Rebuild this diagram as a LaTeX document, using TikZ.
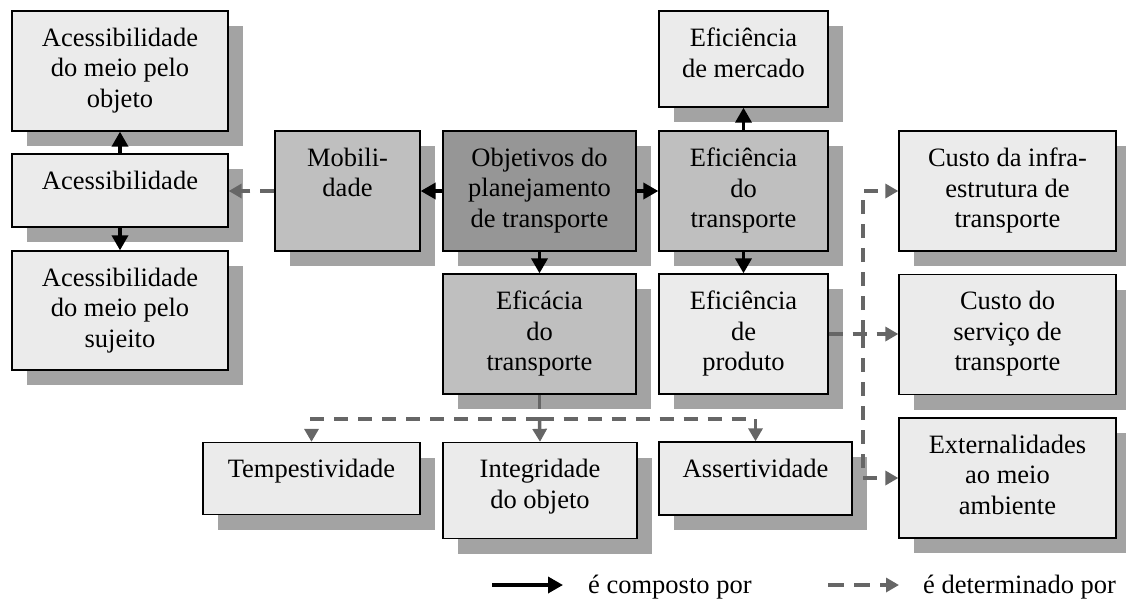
\documentclass[tikz,border=0pt]{standalone}
\usepackage{fontspec}
\setmainfont{Liberation Serif}
\usetikzlibrary{arrows.meta}
\usetikzlibrary{shadows}

\definecolor{claro}{gray}{0.92}
\definecolor{medio}{gray}{0.75}
\definecolor{escuro}{gray}{0.59}
\definecolor{sombra}{gray}{0.64}
\definecolor{traco}{gray}{0.40}

\begin{document}
\begin{tikzpicture}[x = 1pt, y = -1pt]
\tikzstyle{BoxStyle}=[shape = rectangle,
                      draw, line width = 1.3pt,
                      inner sep = 0pt,
                      drop shadow = {shadow xshift = 15pt, shadow yshift = -15pt,
                                     fill = sombra, opacity = 1}]
\tikzstyle{TextStyle}=[anchor = north, align = center, inner sep = 0pt,
                       yshift = -17.5pt,
                       font = \fontsize{26.5}{30.5}\selectfont]
\tikzstyle{LegendStyle}=[anchor = base west, inner sep = 0pt,
                         font = \fontsize{26.5}{30.5}\selectfont]
\tikzstyle{EdgeStyle}=[line width = 3.5pt,
                       -{Triangle[width = 16pt, length = 15pt]}]
\tikzstyle{DashStyle}=[draw = traco, line width = 3.5pt,
                       dash pattern = on 14pt off 10pt,
                       -{Triangle[width = 14pt, length = 13pt, fill = traco]}]
\useasboundingbox (0, 0) rectangle (1126, 603);
% caixas
\node[BoxStyle, fill = claro, minimum width = 216pt, minimum height = 120pt] (acObj) at (120, 71) {};
\node[BoxStyle, fill = claro, minimum width = 216pt, minimum height = 73pt] (acess) at (120, 190.5) {};
\node[BoxStyle, fill = claro, minimum width = 216pt, minimum height = 119pt] (acSuj) at (120, 310.5) {};
\node[BoxStyle, fill = medio, minimum width = 145pt, minimum height = 120pt] (mob) at (347.5, 191) {};
\node[BoxStyle, fill = escuro, minimum width = 193pt, minimum height = 120pt] (obj) at (539.5, 191) {};
\node[BoxStyle, fill = claro, minimum width = 169pt, minimum height = 96pt] (efMer) at (743.5, 59) {};
\node[BoxStyle, fill = medio, minimum width = 169pt, minimum height = 120pt] (efTr) at (743.5, 191) {};
\node[BoxStyle, fill = claro, minimum width = 217pt, minimum height = 120pt] (infra) at (1007.5, 191) {};
\node[BoxStyle, fill = medio, minimum width = 193pt, minimum height = 120pt] (efic) at (539.5, 334) {};
\node[BoxStyle, fill = claro, minimum width = 169pt, minimum height = 120pt] (prod) at (743.5, 334) {};
\node[BoxStyle, fill = claro, minimum width = 217pt, minimum height = 120pt] (serv) at (1007.5, 334.5) {};
\node[BoxStyle, fill = claro, minimum width = 217pt, minimum height = 72pt] (temp) at (311.5, 478.5) {};
\node[BoxStyle, fill = claro, minimum width = 194pt, minimum height = 96pt] (integ) at (540, 490.5) {};
\node[BoxStyle, fill = claro, minimum width = 193pt, minimum height = 73pt] (asser) at (755.5, 478.5) {};
\node[BoxStyle, fill = claro, minimum width = 217pt, minimum height = 120pt] (ext) at (1007.5, 478) {};
% textos
\node[TextStyle] (acObjT) at (acObj.north) {Acessibilidade\\do meio pelo\\objeto};
\node[TextStyle] (acessT) at (acess.north) {Acessibilidade};
\node[TextStyle] (acSujT) at (acSuj.north) {Acessibilidade\\do meio pelo\\sujeito};
\node[TextStyle] (mobT) at (mob.north) {Mobili-\\dade};
\node[TextStyle] (objT) at (obj.north) {Objetivos do\\planejamento\\de transporte};
\node[TextStyle] (efMerT) at (efMer.north) {Eficiência\\de mercado};
\node[TextStyle] (efTrT) at (efTr.north) {Eficiência\\do\\transporte};
\node[TextStyle] (infraT) at (infra.north) {Custo da infra-\\estrutura de\\transporte};
\node[TextStyle] (eficT) at (efic.north) {Eficácia\\do\\transporte};
\node[TextStyle] (prodT) at (prod.north) {Eficiência\\de\\produto};
\node[TextStyle] (servT) at (serv.north) {Custo do\\serviço de\\transporte};
\node[TextStyle] (tempT) at (temp.north) {Tempestividade};
\node[TextStyle] (integT) at (integ.north) {Integridade\\do objeto};
\node[TextStyle] (asserT) at (asser.north) {Assertividade};
\node[TextStyle] (extT) at (ext.north) {Externalidades\\ao meio\\ambiente};
% ligacoes
\draw[EdgeStyle] (obj.west) -- (mob.east);
\draw[EdgeStyle] (obj.east) -- (efTr.west);
\draw[EdgeStyle] (obj.south) -- (efic.north);
\draw[EdgeStyle] (efTr.north) -- (efMer.south);
\draw[EdgeStyle] (efTr.south) -- (prod.north);
\draw[EdgeStyle] (acess.north) -- (acObj.south);
\draw[EdgeStyle] (acess.south) -- (acSuj.north);
\draw[DashStyle] (mob.west) -- (mob.west -| acess.east);
\coordinate (ramo) at (539.5, 419);
\draw[DashStyle, -] (efic.south) -- (ramo);
\draw[DashStyle] (ramo) -| (temp.north);
\draw[DashStyle] (ramo) -- (integ.north);
\draw[DashStyle] (ramo) -| (asser.north);
\coordinate (junta) at (863, 334);
\draw[DashStyle] (prod.east) -- (prod.east -| serv.west);
\draw[DashStyle] (junta) |- (infra.west);
\draw[DashStyle] (junta) |- (ext.west);
% legenda
\coordinate (leg1a) at (492, 585);
\coordinate (leg1b) at (563, 585);
\coordinate (leg2a) at (828, 585);
\coordinate (leg2b) at (899, 585);
\draw[EdgeStyle] (leg1a) -- (leg1b);
\draw[DashStyle, dash pattern = on 16pt off 10pt] (leg2a) -- (leg2b);
\node[LegendStyle] (legT1) at (588, 593) {é composto por};
\node[LegendStyle] (legT2) at (923, 593) {é determinado por};
\end{tikzpicture}
\end{document}
